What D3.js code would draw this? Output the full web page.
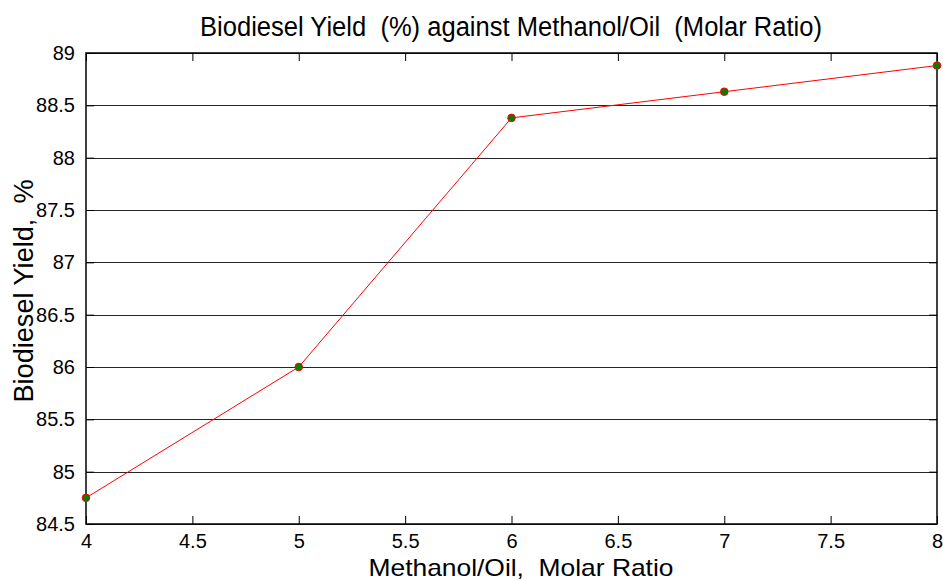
<!DOCTYPE html>
<html>
<head>
<meta charset="utf-8">
<script src="https://cdn.jsdelivr.net/npm/d3@7"></script>
<style>
  body { margin:0; background:#fff; }
  text { font-family: 'Liberation Sans', Arial, sans-serif; fill:#000; }
</style>
</head>
<body>
<script>
var ratio = [4, 5, 6, 7, 8];
var yieldPct = [84.75, 86.0, 88.38, 88.63, 88.88];
var xTicks = [4, 4.5, 5, 5.5, 6, 6.5, 7, 7.5, 8];
var yTicks = [84.5, 85, 85.5, 86, 86.5, 87, 87.5, 88, 88.5, 89];

var container_dim = {width:943, height:580},
    margins = {top:53, right:6, bottom:56, left:86},
    chart_dim = {
      width:container_dim.width-margins.left-margins.right,
      height:container_dim.height-margins.top-margins.bottom
    };

var svg = d3.select('body').append('svg')
  .attr('width', container_dim.width)
  .attr('height', container_dim.height);

var plot = svg.append('g')
  .attr('transform', 'translate(' + margins.left + ',' + margins.top + ')');

var xScale = d3.scaleLinear().domain([4, 8]).range([0, chart_dim.width]);
var yScale = d3.scaleLinear().domain([84.5, 89]).range([chart_dim.height, 0]);

// horizontal grid
plot.append('g')
  .selectAll('line')
  .data(yTicks)
  .enter()
  .append('line')
  .attr('x1', 0).attr('x2', chart_dim.width)
  .attr('y1', function(d) { return Math.round(yScale(d)) + 0.5; })
  .attr('y2', function(d) { return Math.round(yScale(d)) + 0.5; })
  .attr('stroke', '#262626')
  .attr('stroke-width', 1);

var fmt = function(d) { return d3.format('')(d); };

var xAxis = d3.axisBottom(xScale).tickValues(xTicks).tickSize(-8).tickPadding(10).tickFormat(fmt);
var xAxisTop = d3.axisTop(xScale).tickValues(xTicks).tickSize(-8).tickFormat('');
var yAxis = d3.axisLeft(yScale).tickValues(yTicks).tickSize(-8).tickPadding(11).tickFormat(fmt);
var yAxisRight = d3.axisRight(yScale).tickValues(yTicks).tickSize(-8).tickFormat('');

function styleAxis(g) {
  g.select('.domain').remove();
  g.selectAll('.tick line').attr('stroke', '#000').attr('stroke-width', 1);
  g.selectAll('.tick text')
    .style('font-family', "'Liberation Sans', Arial, sans-serif")
    .style('font-size', '20px')
    .attr('fill', '#000');
}

plot.append('g')
  .attr('transform', 'translate(0,' + chart_dim.height + ')')
  .call(xAxis).call(styleAxis);
plot.append('g').call(xAxisTop).call(styleAxis);
plot.append('g').call(yAxis).call(styleAxis);
plot.append('g')
  .attr('transform', 'translate(' + chart_dim.width + ',0)')
  .call(yAxisRight).call(styleAxis);

plot.append('rect')
  .attr('x', 0).attr('y', 0)
  .attr('width', chart_dim.width).attr('height', chart_dim.height)
  .attr('fill', 'none')
  .attr('stroke', '#000')
  .attr('stroke-width', 1.5);

var pts = ratio.map(function(r, i) { return {x:r, y:yieldPct[i]}; });

plot.append('path')
  .datum(pts)
  .attr('fill', 'none')
  .attr('stroke', '#ff0000')
  .attr('stroke-width', 1)
  .attr('d', d3.line()
    .x(function(d) { return xScale(d.x); })
    .y(function(d) { return yScale(d.y); }));

plot.selectAll('circle')
  .data(pts)
  .enter()
  .append('circle')
  .attr('cx', function(d) { return xScale(d.x); })
  .attr('cy', function(d) { return yScale(d.y); })
  .attr('r', 3.8)
  .attr('fill', '#008000')
  .attr('stroke', '#ff0000')
  .attr('stroke-width', 1);

svg.append('text')
  .text('Biodiesel Yield  (%) against Methanol/Oil  (Molar Ratio)')
  .attr('x', 511)
  .attr('y', 36)
  .attr('text-anchor', 'middle')
  .attr('textLength', 622)
  .attr('lengthAdjust', 'spacingAndGlyphs')
  .style('font-size', '27px')
  .style('white-space', 'pre');

svg.append('text')
  .text('Methanol/Oil,  Molar Ratio')
  .attr('x', 521)
  .attr('y', 576)
  .attr('text-anchor', 'middle')
  .attr('textLength', 305)
  .attr('lengthAdjust', 'spacingAndGlyphs')
  .style('font-size', '24px')
  .style('white-space', 'pre');

svg.append('text')
  .text('Biodiesel Yield,  %')
  .attr('transform', 'translate(33,291) rotate(-90)')
  .attr('text-anchor', 'middle')
  .attr('textLength', 223)
  .attr('lengthAdjust', 'spacingAndGlyphs')
  .style('font-size', '27px')
  .style('white-space', 'pre');
</script>
</body>
</html>
